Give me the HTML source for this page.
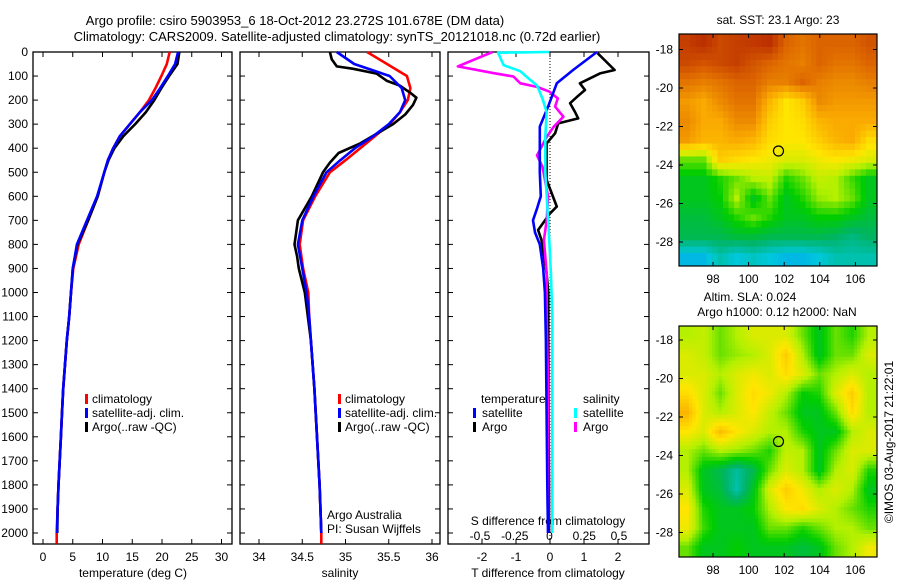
<!DOCTYPE html>
<html><head><meta charset="utf-8"><style>
html,body{margin:0;padding:0;background:#fff;}
svg{display:block;font-family:"Liberation Sans",sans-serif;font-size:12px;}
</style></head><body>
<svg id="c" width="900" height="580" viewBox="0 0 900 580" xmlns="http://www.w3.org/2000/svg">
<text x="295" y="25" text-anchor="middle" font-size="13">Argo profile: csiro 5903953_6 18-Oct-2012 23.272S 101.678E (DM data)</text>
<text x="337" y="41" text-anchor="middle" font-size="13">Climatology: CARS2009. Satellite-adjusted climatology: synTS_20121018.nc (0.72d earlier)</text>
<g id="g"></g>
</svg>
<script>
// ---- data ----
const tempDepth = [0,50,100,150,200,250,300,350,400,450,500,600,700,800,900,1000,1100,1200,1300,1400,1500,1600,1700,1800,1900,2000];
const tempClimDepth = [0,50,100,150,200,250,300,350,400,450,500,600,700,800,900,1000,1100,1200,1300,1400,1500,1600,1700,1800,1900,2000,2045];
const tempClim  = [21.3,20.8,19.9,18.9,17.8,16.3,14.6,12.9,11.8,10.9,10.3,9.2,7.6,6.0,5.1,4.7,4.4,4.0,3.7,3.4,3.2,3.0,2.8,2.6,2.45,2.3,2.3];
const tempSat   = [22.7,22.2,21.0,19.7,18.3,16.3,14.6,12.9,11.8,10.9,10.3,9.1,7.4,5.7,5.0,4.7,4.4,4.0,3.7,3.4,3.2,3.0,2.8,2.6,2.45,2.35];
const tempArgo  = [22.9,22.6,21.2,19.9,18.7,17.3,15.5,13.5,12.0,11.0,10.3,9.2,7.6,5.8,5.0,4.7,4.4,4.0,3.7,3.4,3.2,3.0,2.8,2.6,2.45,2.4];
const salDepth  = [0,50,100,150,200,250,300,350,400,450,500,600,700,800,900,1000,1100,1200,1400,1600,1800,2000];
const salClimDepth = [0,50,100,150,200,250,300,350,400,450,500,600,700,800,900,1000,1100,1200,1400,1600,1800,2000,2045];
const salClim   = [35.25,35.48,35.71,35.75,35.72,35.63,35.51,35.34,35.17,35.0,34.82,34.65,34.51,34.47,34.51,34.57,34.58,34.6,34.64,34.67,34.7,34.72,34.72];
const salSat    = [34.9,35.1,35.51,35.65,35.69,35.63,35.5,35.32,35.11,34.94,34.78,34.63,34.5,34.45,34.5,34.55,34.58,34.6,34.64,34.67,34.7,34.72];
const salArgoDepth = [0,30,60,70,90,120,140,170,190,220,260,300,340,380,420,460,500,600,700,750,800,850,900,1000,1200,1400,1600,1800,2000];
const salArgo   = [34.82,34.84,34.9,35.09,35.36,35.48,35.63,35.75,35.82,35.78,35.69,35.55,35.36,35.17,34.92,34.82,34.74,34.61,34.45,34.43,34.41,34.44,34.46,34.53,34.6,34.64,34.67,34.7,34.72];
const tdSatDepth = [0,75,130,225,310,400,500,600,650,700,750,800,900,1000,1200,1500,1800,2000];
const tdSat      = [1.38,0.68,0.2,-0.05,-0.3,-0.3,-0.3,-0.27,-0.38,-0.5,-0.44,-0.3,-0.2,-0.15,-0.12,-0.1,-0.08,-0.06];
const tdArgoDepth = [5,75,89,130,158,186,213,248,276,297,338,380,532,643,671,740,782,920,1000,1200,1500,1800,2000];
const tdArgo      = [1.4,1.9,1.47,0.88,1.03,0.8,0.59,0.73,0.83,0.24,0.15,-0.1,-0.1,0.2,0.0,-0.35,-0.25,-0.1,-0.05,-0.05,-0.04,-0.03,-0.03];
const sdArgoDepth = [0,60,88,102,130,145,165,193,227,269,311,353,408,430,477,602,699,782,920,1100,1400,1700,2000];
const sdArgo      = [-0.41,-0.66,-0.4,-0.26,-0.21,-0.09,0,0.06,0.04,0.1,0.03,-0.02,-0.07,-0.09,-0.05,-0.01,-0.02,-0.04,-0.02,-0.02,-0.01,-0.01,-0.01];
const sdSatDepth = [0,3,55,80,110,139,194,250,350,500,700,800,920,1100,1400,1700,2000];
const sdSat      = [0,-0.37,-0.33,-0.21,-0.15,-0.09,-0.05,-0.02,-0.03,-0.03,-0.01,0,0.01,0.02,0.02,0.02,0.02];
const depthTicks = [0,100,200,300,400,500,600,700,800,900,1000,1100,1200,1300,1400,1500,1600,1700,1800,1900,2000];
const tempTicks = [0,5,10,15,20,25,30];
const salTicks = [34,34.5,35,35.5,36];
const tdTicks = [-2,-1,0,1,2];
const sdTicks = [-0.5,-0.25,0,0.25,0.5];
const lonTicks = [98,100,102,104,106];
const latTicks = [-18,-20,-22,-24,-26,-28];
const sstGrid = [
[0.92,0.95,0.9,0.92,0.93,0.95,0.85,0.82,0.85,0.85,0.85,0.88],
[0.9,0.88,0.9,0.92,0.88,0.85,0.82,0.8,0.85,0.82,0.82,0.85],
[0.82,0.8,0.82,0.85,0.85,0.8,0.8,0.85,0.8,0.78,0.78,0.8],
[0.75,0.72,0.78,0.82,0.82,0.7,0.6,0.65,0.78,0.75,0.75,0.75],
[0.78,0.72,0.72,0.78,0.78,0.65,0.6,0.62,0.7,0.72,0.72,0.72],
[0.75,0.7,0.7,0.72,0.7,0.62,0.6,0.6,0.65,0.7,0.72,0.62],
[0.45,0.45,0.65,0.62,0.6,0.58,0.55,0.55,0.58,0.6,0.58,0.55],
[0.35,0.35,0.4,0.45,0.5,0.52,0.4,0.45,0.52,0.5,0.42,0.35],
[0.35,0.35,0.38,0.5,0.35,0.45,0.35,0.4,0.48,0.5,0.45,0.35],
[0.32,0.32,0.35,0.4,0.45,0.4,0.35,0.35,0.38,0.38,0.35,0.32],
[0.3,0.3,0.3,0.32,0.32,0.3,0.3,0.3,0.3,0.28,0.25,0.28],
[0.12,0.12,0.2,0.15,0.18,0.15,0.12,0.12,0.15,0.2,0.2,0.2]];
const slaGrid = [
[0.5,0.52,0.45,0.5,0.55,0.55,0.55,0.45,0.35,0.45,0.4,0.5],
[0.55,0.52,0.45,0.48,0.5,0.55,0.65,0.5,0.35,0.45,0.45,0.55],
[0.55,0.55,0.5,0.55,0.58,0.55,0.62,0.55,0.45,0.5,0.55,0.5],
[0.62,0.55,0.45,0.55,0.62,0.58,0.5,0.38,0.4,0.55,0.65,0.5],
[0.7,0.55,0.5,0.55,0.6,0.52,0.45,0.35,0.35,0.45,0.62,0.5],
[0.6,0.55,0.68,0.6,0.55,0.5,0.5,0.4,0.35,0.35,0.5,0.55],
[0.5,0.45,0.5,0.48,0.45,0.4,0.52,0.5,0.35,0.45,0.55,0.55],
[0.5,0.35,0.3,0.22,0.3,0.45,0.55,0.5,0.35,0.5,0.55,0.4],
[0.55,0.35,0.32,0.2,0.35,0.55,0.65,0.58,0.5,0.55,0.5,0.35],
[0.6,0.4,0.35,0.35,0.38,0.5,0.6,0.62,0.55,0.5,0.45,0.4],
[0.58,0.42,0.35,0.35,0.35,0.45,0.45,0.4,0.45,0.5,0.5,0.45],
[0.45,0.35,0.35,0.38,0.35,0.35,0.35,0.32,0.35,0.45,0.5,0.58]];
const argoLon = 101.678, argoLat = -23.272;

// ---- helpers ----
const NS="http://www.w3.org/2000/svg";
const G=document.getElementById('g');
function mk(tag,attrs,parent){const e=document.createElementNS(NS,tag);for(const k in attrs)e.setAttribute(k,attrs[k]);(parent||G).appendChild(e);return e;}
const yD=d=>52+d*0.2405;
const xT=t=>43+t*5.95;
const xS=s=>259+(s-34)*86.5;
const xTd=t=>550+t*34;
const xSd=s=>549.5+s*139;
const Y0=52,Y1=544;

function panel(x0,x1,name){
  const r=mk('rect',{x:x0,y:Y0,width:x1-x0,height:Y1-Y0,fill:'none',stroke:'#000','stroke-width':1.3});
  
  
  depthTicks.forEach(d=>{
    const y=yD(d);
    mk('line',{x1:x0,y1:y,x2:x0+5,y2:y,stroke:'#000'});
    mk('line',{x1:x1-5,y1:y,x2:x1,y2:y,stroke:'#000'});
  });
}
function xticks(vals,fx,labelY,top,name){
  vals.forEach(v=>{
    const x=fx(v);
    mk('line',{x1:x,y1:Y1-5,x2:x,y2:Y1,stroke:'#000'});
    if(top) mk('line',{x1:x,y1:Y0,x2:x,y2:Y0+5,stroke:'#000'});
    const t=mk('text',{x:x,y:labelY,'text-anchor':'middle'});t.textContent=String(v);
    
    
  });
}
function line(xs,ds,fx,col,name){
  const pts=xs.map((v,i)=>fx(v).toFixed(1)+','+yD(ds[i]).toFixed(1)).join(' ');
  const p=mk('polyline',{points:pts,fill:'none',stroke:col,'stroke-width':2.6,'stroke-linejoin':'round'});
  
  
}
function txt(x,y,s,name,anchor){const t=mk('text',{x:x,y:y,'text-anchor':anchor||'start'});t.textContent=s;
  
  
  return t;}
function marker(x,y,col,name){const r=mk('rect',{x:x,y:y-9,width:3,height:10,fill:col});
  
  }

// ---- panels ----
panel(33,232,'temperature-panel');
panel(240,440,'salinity-panel');
panel(448,649,'difference-panel');
depthTicks.forEach(d=>{txt(28,yD(d)+4,String(d),'depth-tick-label','end');});
xticks(tempTicks,xT,561,true,'temperature-tick-label');
xticks(salTicks,xS,561,true,'salinity-tick-label');
xticks(tdTicks,xTd,561,true,'t-diff-tick-label');
sdTicks.forEach(v=>{txt(xSd(v),540,String(v),'s-diff-tick-label','middle');});
txt(133,577,'temperature (deg C)','temperature-axis-title','middle');
txt(340,577,'salinity','salinity-axis-title','middle');
txt(548,577,'T difference from climatology','t-diff-axis-title','middle');
txt(548,525,'S difference from climatology','s-diff-axis-title','middle');
mk('line',{x1:xTd(0),y1:Y0,x2:xTd(0),y2:Y1,stroke:'#000','stroke-dasharray':'1,2'});

line(tempClim,tempClimDepth,xT,'#ff0000','temp-climatology-line');
line(tempArgo,tempDepth,xT,'#000000','temp-argo-line');
line(tempSat,tempDepth,xT,'#0000ff','temp-satellite-line');
line(salClim,salClimDepth,xS,'#ff0000','sal-climatology-line');
line(salArgo,salArgoDepth,xS,'#000000','sal-argo-line');
line(salSat,salDepth,xS,'#0000ff','sal-satellite-line');
line(tdArgo,tdArgoDepth,xTd,'#000000','t-diff-argo-line');
line(sdArgo,sdArgoDepth,xSd,'#ff00ff','s-diff-argo-line');
line(tdSat,tdSatDepth,xTd,'#0000ff','t-diff-satellite-line');
line(sdSat,sdSatDepth,xSd,'#00ffff','s-diff-satellite-line');

// legends
[['#ff0000','climatology'],['#0000ff','satellite-adj. clim.'],['#000','Argo(..raw -QC)']].forEach((e,i)=>{
  marker(85,403+i*14,e[0],'temp-legend-marker');
  txt(92,403+i*14,e[1],'temp-legend-entry');
  marker(338,403+i*14,e[0],'sal-legend-marker');
  txt(345,403+i*14,e[1],'sal-legend-entry');
});
txt(481,403,'temperature','diff-legend-temperature-header');
txt(583,403,'salinity','diff-legend-salinity-header');
marker(473,417,'#0000ff','diff-legend-marker');txt(482,417,'satellite','diff-legend-t-satellite');
marker(473,431,'#000','diff-legend-marker');txt(482,431,'Argo','diff-legend-t-argo');
marker(574,417,'#00ffff','diff-legend-marker');txt(583,417,'satellite','diff-legend-s-satellite');
marker(574,431,'#ff00ff','diff-legend-marker');txt(583,431,'Argo','diff-legend-s-argo');
txt(327,519,'Argo Australia','credit-argo-australia');
txt(327,533,'PI: Susan Wijffels','credit-pi');

// ---- maps ----
const stops=[[0,[0,120,255]],[0.15,[0,200,220]],[0.28,[0,180,100]],[0.38,[0,205,0]],[0.5,[180,240,0]],[0.6,[255,230,0]],[0.72,[250,170,0]],[0.85,[220,100,0]],[1,[170,20,0]]];
function cmap(v){for(let i=1;i<stops.length;i++){if(v<=stops[i][0]){const a=stops[i-1],b=stops[i],f=(v-a[0])/(b[0]-a[0]);return 'rgb('+a[1].map((c,k)=>Math.round(c+(b[1][k]-c)*f)).join(',')+')';}}return 'rgb(170,20,0)';}
function sample(grid,r,c){ // bilinear at fractional cell coords (centers at integer)
  const R=grid.length,C=grid[0].length;
  r=Math.max(0,Math.min(R-1,r));c=Math.max(0,Math.min(C-1,c));
  const r0=Math.floor(r),c0=Math.floor(c),r1=Math.min(R-1,r0+1),c1=Math.min(C-1,c0+1),fr=r-r0,fc=c-c0;
  return grid[r0][c0]*(1-fr)*(1-fc)+grid[r0][c1]*(1-fr)*fc+grid[r1][c0]*fr*(1-fc)+grid[r1][c1]*fr*fc;
}
function map(grid,top,bottom,latY0,name,sub){
  const x0=679,x1=877;
  const xL=lon=>713+(lon-98)*17.8;
  const yL=lat=>latY0+(-18-lat)*19.25;
  const R=grid.length,C=grid[0].length;
  const nR=R*sub,nC=C*sub;
  const cw=(x1-x0)/nC,ch=(bottom-top)/nR;
  for(let i=0;i<nR;i++)for(let j=0;j<nC;j++){
    const v=sample(grid,(i+0.5)/sub-0.5,(j+0.5)/sub-0.5);
    const r=mk('rect',{x:(x0+j*cw).toFixed(2),y:(top+i*ch).toFixed(2),width:(cw+0.5).toFixed(2),height:(ch+0.5).toFixed(2),fill:cmap(v)});
    
    
  }
  const f=mk('rect',{x:x0,y:top,width:x1-x0,height:bottom-top,fill:'none',stroke:'#000','stroke-width':1.2});
  
  
  lonTicks.forEach(l=>{const x=xL(l);mk('line',{x1:x,y1:bottom-4,x2:x,y2:bottom,stroke:'#000'});mk('line',{x1:x,y1:top,x2:x,y2:top+4,stroke:'#000'});
    txt(x,bottom+17,String(l),name+'-lon-label','middle');});
  latTicks.forEach(l=>{const y=yL(l);mk('line',{x1:x0,y1:y,x2:x0+4,y2:y,stroke:'#000'});mk('line',{x1:x1-4,y1:y,x2:x1,y2:y,stroke:'#000'});
    txt(673,y+4,String(l),name+'-lat-label','end');});
  const c=mk('circle',{cx:xL(argoLon),cy:yL(argoLat),r:5,fill:'none',stroke:'#000','stroke-width':1.2});
  
  
}
map(sstGrid,34,266,49.5,'sst-map',3);
map(slaGrid,326,557,340,'sla-map',5);
txt(778,24,'sat. SST: 23.1 Argo: 23','sst-map-title','middle');
txt(750,301,'Altim. SLA: 0.024','sla-map-title','middle');
txt(777,316,'Argo h1000: 0.12 h2000: NaN','sla-map-subtitle','middle');
const cp=txt(0,0,'©IMOS 03-Aug-2017 21:22:01','copyright-timestamp','middle');
cp.setAttribute('transform','translate(893,442) rotate(-90)');
</script>
</body></html>
